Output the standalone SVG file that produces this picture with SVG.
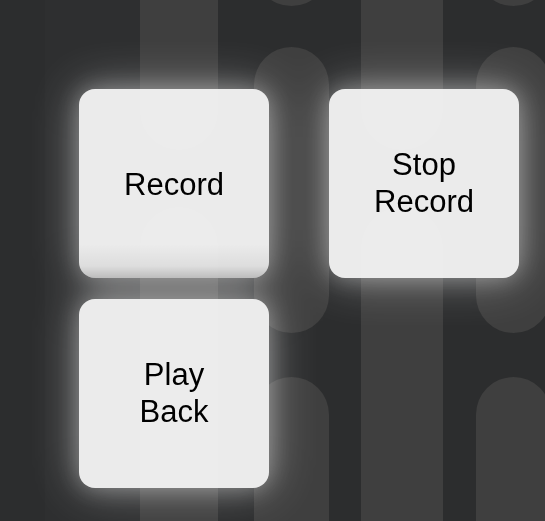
<svg xmlns="http://www.w3.org/2000/svg" width="545" height="521" viewBox="0 0 545 521">
  <style>
    .bg { fill: #2c2d2e; }
    .band { fill: #3f3f3f; }
    .btn { fill: #ebebeb; }
    .sheen { fill: #ffffff; opacity: 0.08; }
    .glowA { fill: #ffffff; opacity: 0.3; }
    .glowB { fill: #ffffff; opacity: 0.4; }
    .lbl { font-family: "Liberation Sans", Arial, sans-serif; font-size: 31px; fill: #000000; text-anchor: middle; }
  </style>
  <defs>
    <filter id="blurA" x="-50%" y="-50%" width="200%" height="200%">
      <feGaussianBlur stdDeviation="11"/>
    </filter>
    <filter id="blurB" x="-60%" y="-60%" width="220%" height="220%">
      <feGaussianBlur stdDeviation="24"/>
    </filter>
    <linearGradient id="press" gradientUnits="userSpaceOnUse" x1="0" y1="244" x2="0" y2="278">
      <stop offset="0" stop-color="#000" stop-opacity="0"/>
      <stop offset="0.65" stop-color="#000" stop-opacity="0.06"/>
      <stop offset="1" stop-color="#000" stop-opacity="0.2"/>
    </linearGradient>
    <clipPath id="clipRec"><rect x="79" y="89" width="190" height="189" rx="16"/></clipPath>
    <clipPath id="clipStop"><rect x="329" y="89" width="190" height="189" rx="16"/></clipPath>
    <clipPath id="clipPlay"><rect x="79" y="299" width="190" height="189" rx="16"/></clipPath>
  </defs>

  <g id="background">
    <rect class="bg" x="0" y="0" width="545" height="521"/>
    <rect x="45" y="0" width="95" height="521" fill="#2e2f30"/>
    <rect class="band" x="140" y="0" width="78" height="521"/>
    <rect class="band" x="361" y="0" width="82" height="521"/>
    <rect class="band" x="254" y="-280" width="75" height="286" rx="37.5"/>
    <rect class="band" x="254" y="47" width="75" height="286" rx="37.5"/>
    <rect class="band" x="254" y="377" width="75" height="286" rx="37.5"/>
    <rect class="band" x="476" y="-280" width="75" height="286" rx="37.5"/>
    <rect class="band" x="476" y="47" width="75" height="286" rx="37.5"/>
    <rect class="band" x="476" y="377" width="75" height="286" rx="37.5"/>
  </g>

  <g id="glows">
    <g filter="url(#blurB)">
      <rect class="glowB" x="79" y="89" width="190" height="189" rx="16"/>
      <rect class="glowB" x="329" y="89" width="190" height="189" rx="16"/>
      <rect class="glowB" x="79" y="299" width="190" height="189" rx="16"/>
    </g>
    <g filter="url(#blurA)">
      <rect class="glowA" x="79" y="89" width="190" height="189" rx="16"/>
      <rect class="glowA" x="329" y="89" width="190" height="189" rx="16"/>
      <rect class="glowA" x="79" y="299" width="190" height="189" rx="16"/>
    </g>
  </g>

  <g id="connectors"/>

  <g id="node-record">
    <rect class="btn" x="79" y="89" width="190" height="189" rx="16"/>
    <g clip-path="url(#clipRec)">
      <rect class="sheen" x="140" y="40" width="78" height="110" rx="39"/>
      <rect class="sheen" x="140" y="207" width="78" height="120" rx="39"/>
      <rect x="79" y="240" width="190" height="40" fill="url(#press)"/>
    </g>
    <text class="lbl" x="174" y="195">Record</text>
  </g>

  <g id="node-stop-record">
    <rect class="btn" x="329" y="89" width="190" height="189" rx="16"/>
    <g clip-path="url(#clipStop)">
      <rect class="sheen" x="361" y="40" width="82" height="110" rx="41"/>
      <rect class="sheen" x="361" y="207" width="82" height="120" rx="41"/>
    </g>
    <text class="lbl" x="424" y="175">Stop</text>
    <text class="lbl" x="424" y="211.5">Record</text>
  </g>

  <g id="node-play-back">
    <rect class="btn" x="79" y="299" width="190" height="189" rx="16"/>
    <g clip-path="url(#clipPlay)">
      <rect class="sheen" x="140" y="299" width="78" height="189"/>
    </g>
    <text class="lbl" x="174" y="385">Play</text>
    <text class="lbl" x="174" y="421.5">Back</text>
  </g>
</svg>
